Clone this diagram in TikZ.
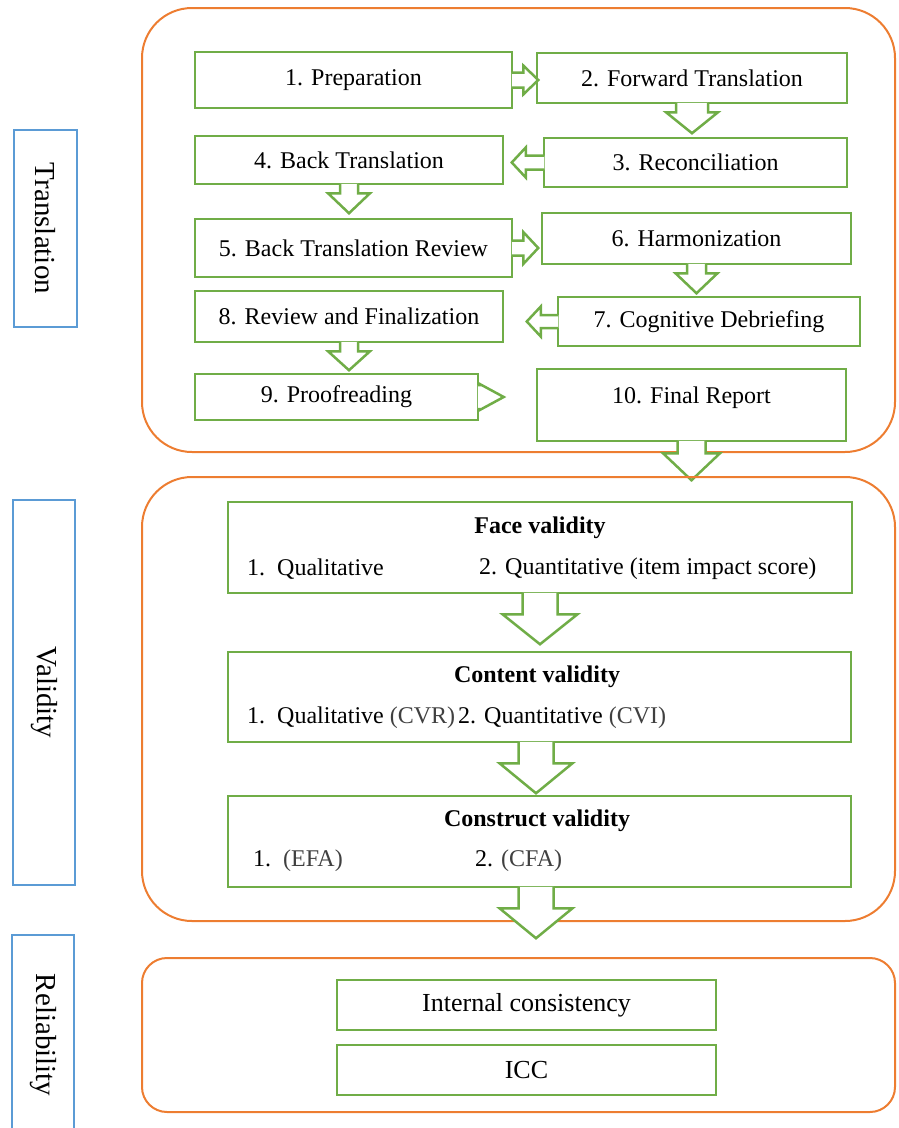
\documentclass[tikz,border=0pt]{standalone}
\usepackage{fontspec}
\setmainfont{Liberation Serif}
\definecolor{grn}{HTML}{70AD47}
\definecolor{org}{HTML}{ED7D31}
\definecolor{blu}{HTML}{5B9BD5}
\definecolor{gtxt}{HTML}{404040}
\newcommand\fsz[1]{\fontsize{#1}{#1}\selectfont}
\newcommand\blockarrow[6]{%
  \begin{scope}[shift={(#1)},rotate=#2]
    \path[barrow] (-1.5,-#3) -- (#5,-#3) -- (#5,-#4) -- ({#5+#6},0) -- (#5,#4) -- (#5,#3) -- (-1.5,#3);
  \end{scope}}
\tikzset{
  gbox/.style={draw=grn, line width=2.5pt, fill=white, inner sep=0pt, font=\fsz{24}},
  obox/.style={draw=org, line width=2pt, inner sep=0pt},
  bbox/.style={draw=blu, line width=2.5pt, inner sep=0pt},
  barrow/.style={draw=grn, line width=2.5pt, fill=white, line join=miter},
  sidetext/.style={rotate=-90, font=\fsz{29}, inner sep=0pt},
  vtext/.style={font=\fsz{24}, inner sep=0pt},
}
\begin{document}
\begin{tikzpicture}[x=1pt,y=-1pt]
\useasboundingbox (0,0) rectangle (898,1128);

% side labels
\node[bbox, minimum width=63pt, minimum height=197pt] (tl) at (45.5,228.5) {};
\node[sidetext] (tlt) at (tl.center) {Translation};
\node[bbox, minimum width=62pt, minimum height=385pt] (vl) at (44,692.5) {};
\node[sidetext] (vlt) at (vl.center) {Validity};
\node[bbox, minimum width=62pt, minimum height=205pt] (rl) at (43,1037.5) {};
\node[sidetext] (rlt) at (43,1035) {Reliability};

% translation group
\node[obox, rounded corners=50pt, minimum width=753pt, minimum height=444pt] (o1) at (518.5,230) {};

\node[gbox, minimum width=317pt, minimum height=56pt] (b1) at (353.5,80) {1. Preparation};
\node[gbox, minimum width=310pt, minimum height=50pt] (b2) at (692,78) {2. Forward Translation};
\node[gbox, minimum width=303pt, minimum height=49pt] (b3) at (695.5,162.5) {3. Reconciliation};
\node[gbox, minimum width=308pt, minimum height=48pt] (b4) at (349,160) {4. Back Translation};
\node[gbox, minimum width=317pt, minimum height=58pt] (b5) at (353.5,248) {5. Back Translation Review};
\node[gbox, minimum width=309pt, minimum height=51pt] (b6) at (696.5,238.5) {6. Harmonization};
\node[gbox, minimum width=302pt, minimum height=49pt] (b7) at (709,321.5) {7. Cognitive Debriefing};
\node[gbox, minimum width=308pt, minimum height=51pt] (b8) at (349,316.5) {8. Review and Finalization};
\node[gbox, minimum width=283pt, minimum height=46pt] (b9) at (336.5,397) {9. Proofreading};
\node[gbox, minimum width=309pt, minimum height=72pt, text height=34pt, text depth=38pt] (b10) at (691.5,405) {10. Final Report};

\blockarrow{b1.east}{0}{7.5}{14.5}{10}{15}
\blockarrow{b2.south}{-90}{16}{26}{8}{21}
\blockarrow{b3.west}{180}{7}{15}{17}{14}
\blockarrow{b4.south}{-90}{9}{21}{8}{20}
\blockarrow{b5.east}{0}{7.5}{16}{10}{15}
\blockarrow{b6.south}{-90}{9.5}{21}{8}{20}
\blockarrow{b7.west}{180}{6.5}{15}{16}{14}
\blockarrow{b8.south}{-90}{9}{21}{8}{19}
\blockarrow{b9.east}{0}{12}{13}{0.5}{24}
\blockarrow{b10.south}{-90}{14}{28.5}{11}{27}

% validity group
\node[obox, rounded corners=50pt, minimum width=753pt, minimum height=444pt] (o2) at (518.5,699) {};

\node[gbox, minimum width=624pt, minimum height=91pt] (fv) at (540,547.5) {};
\node[vtext, font=\fsz{24}\bfseries] (fvt) at (540,528) {Face validity};
\node[vtext, anchor=west] (fv1) at (247,569) {1.\ \ Qualitative};
\node[vtext, anchor=west] (fv2) at (479,569) {2. Quantitative (item impact score)};

\node[gbox, minimum width=623pt, minimum height=90pt] (cv) at (539.5,697) {};
\node[vtext, font=\fsz{24}\bfseries] (cvt) at (537,677) {Content validity};
\node[vtext, anchor=west] (cv1) at (247,718) {1.\ \ Qualitative \textcolor{gtxt}{(CVR)}};
\node[vtext, anchor=west] (cv2) at (458,718) {2. Quantitative \textcolor{gtxt}{(CVI)}};

\node[gbox, minimum width=623pt, minimum height=91pt] (cs) at (539.5,841.5) {};
\node[vtext, font=\fsz{24}\bfseries] (cst) at (537,821) {Construct validity};
\node[vtext, anchor=west] (cs1) at (253,861) {1.\ \ \textcolor{gtxt}{(EFA)}};
\node[vtext, anchor=west] (cs2) at (475,861) {2. \textcolor{gtxt}{(CFA)}};

\blockarrow{fv.south}{-90}{17.5}{37.5}{20}{30}
\blockarrow{[xshift=-3.5pt]cv.south}{-90}{17.5}{36.5}{20}{30}
\blockarrow{[xshift=-3.5pt]cs.south}{-90}{17.5}{36.5}{20}{30}

% reliability group
\node[obox, rounded corners=25pt, minimum width=753pt, minimum height=154pt] (o3) at (518.5,1035) {};
\node[gbox, minimum width=379pt, minimum height=50pt, font=\fsz{26}] (ic) at (526.5,1005) {Internal consistency};
\node[gbox, minimum width=379pt, minimum height=50pt, font=\fsz{26}] (icc) at (526.5,1070) {ICC};
\end{tikzpicture}
\end{document}
